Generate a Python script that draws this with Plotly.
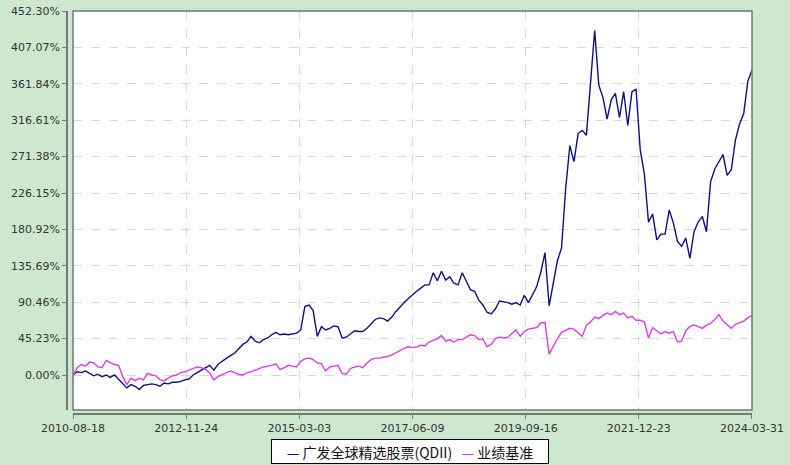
import pandas as pd
import plotly.graph_objects as go

# ---- data (cumulative return, %), monthly readings from 2010-08-18 to 2024-03-31 ----
start_date = "2010-08-18"
end_date = "2024-03-31"

fund_name = "广发全球精选股票(QDII)"
bench_name = "业绩基准"

fund_values = [
    0, 4, 3, 5, 2, -1, 1, -2, 0, -3,
    0, -5, -10, -16, -12, -14, -18, -13, -12, -11,
    -12, -14, -10, -11, -9, -9, -8, -6, -5, 0,
    3, 6, 10, 12, 6, 13, 17, 21, 24, 27,
    33, 38, 41, 48, 42, 40, 44, 46, 50, 53,
    50, 51, 50, 51, 52, 56, 85, 87, 80, 48,
    60, 56, 58, 61, 60, 46, 47, 51, 55, 54,
    54, 58, 64, 69, 71, 70, 67, 72, 79, 85,
    90, 95, 100, 104, 108, 112, 112, 127, 117, 129,
    118, 122, 114, 112, 127, 116, 106, 104, 93, 87,
    78, 76, 82, 92, 91, 90, 88, 90, 87, 99,
    90, 100, 110, 128, 152, 86, 115, 142, 158, 232,
    285, 265, 300, 304, 298, 360, 428, 360, 345, 318,
    342, 350, 320, 352, 310, 352, 355, 280, 250, 190,
    200, 168, 175, 175, 205, 189, 166, 160, 170, 145,
    178, 190, 197, 178, 240, 256, 265, 274, 248, 255,
    292, 312, 325, 365, 379,
]

bench_values = [
    0, 9, 13, 11, 16, 15, 10, 9, 18, 15,
    13, 12, -2, -12, -4, -7, -4, -6, 2, 0,
    -1, -6, -7, -4, -1, 0, 3, 4, 6, 9,
    10, 9, 7, 3, -6, -2, 0, 2, 5, 3,
    1, 0, 3, 4, 6, 9, 10, 11, 12, 14,
    7, 9, 12, 11, 10, 17, 20, 21, 19, 15,
    14, 5, 10, 11, 12, 2, 1, 8, 10, 11,
    9, 15, 19, 21, 21, 22, 23, 25, 28, 31,
    33, 35, 34, 35, 37, 36, 41, 43, 45, 49,
    42, 44, 41, 44, 44, 47, 50, 49, 44, 45,
    35, 38, 45, 47, 46, 47, 51, 56, 48, 54,
    57, 58, 59, 65, 65, 26, 36, 45, 53, 55,
    58, 57, 52, 48, 62, 66, 72, 70, 74, 77,
    75, 79, 75, 77, 71, 73, 68, 68, 66, 46,
    59, 55, 51, 54, 52, 54, 41, 42, 55, 60,
    62, 60, 58, 62, 64, 69, 75, 67, 62, 58,
    63, 65, 67, 71, 74,
]

y_ticks = [0.00, 45.23, 90.46, 135.69, 180.92, 226.15, 271.38, 316.61, 361.84, 407.07, 452.30]
x_ticks = ["2010-08-18", "2012-11-24", "2015-03-03", "2017-06-09", "2019-09-16", "2021-12-23", "2024-03-31"]

dates = pd.date_range(start_date, end_date, periods=len(fund_values))

fund_color = "#10107f"
bench_color = "#e03ce8"
bg_color = "#cee8d0"
axis_color = "#6f7a70"
grid_color = "#d8d8d8"

fig = go.Figure()
fig.add_trace(go.Scatter(x=dates, y=fund_values, mode="lines", name=fund_name,
                         line=dict(color=fund_color, width=1.4)))
fig.add_trace(go.Scatter(x=dates, y=bench_values, mode="lines", name=bench_name,
                         line=dict(color=bench_color, width=1.4)))

fig.update_layout(
    width=790, height=465,
    margin=dict(l=67, r=38, t=11, b=51, autoexpand=False),
    paper_bgcolor=bg_color,
    plot_bgcolor="white",
    showlegend=False,
    font=dict(family="DejaVu Sans", size=11, color="#333333"),
    xaxis=dict(
        domain=[0.0088, 1],
        anchor="free", position=0,
        type="date",
        range=[start_date, end_date],
        tickvals=x_ticks, ticktext=x_ticks,
        showline=True, linecolor=axis_color, linewidth=1.5,
        ticks="outside", ticklen=4, tickcolor=axis_color,
        showgrid=True, gridcolor=grid_color, griddash="dash", gridwidth=1,
        zeroline=False, automargin=False,
    ),
    yaxis=dict(
        domain=[0.0099, 1],
        anchor="free", position=0,
        range=[-43.5, 452.3],
        tickvals=y_ticks,
        ticktext=[f"{v:.2f}%" for v in y_ticks],
        showline=True, linecolor=axis_color, linewidth=1.5,
        ticks="outside", ticklen=4, tickcolor=axis_color,
        showgrid=True, gridcolor=grid_color, griddash="dash", gridwidth=1,
        zeroline=False, automargin=False,
    ),
)

# plot-area frame
fig.add_shape(type="rect", xref="x domain", yref="y domain", x0=0, x1=1, y0=0, y1=1,
              line=dict(color=axis_color, width=1.5), fillcolor="rgba(0,0,0,0)", layer="above")

# legend box
nb = "\u00a0"
legend_text = (f"<span style='color:{fund_color}'>—</span>{nb}{fund_name}{nb}{nb}{nb}"
               f"<span style='color:{bench_color}'>—</span>{nb}{bench_name}")
fig.add_annotation(
    text=legend_text, xref="paper", yref="paper", x=0.5, y=-0.093,
    xanchor="center", yanchor="middle", showarrow=False,
    font=dict(family="Noto Sans CJK SC", size=14, color="#111111"),
    bgcolor="white", bordercolor="#000000", borderwidth=1, borderpad=2,
    width=272, height=19,
)

fig.write_html(
    "out.html",
    config={"displayModeBar": False},
    post_script="document.documentElement.style.margin='0';document.body.style.margin='0';"
                "document.body.style.padding='0';document.body.style.overflow='hidden';",
)
